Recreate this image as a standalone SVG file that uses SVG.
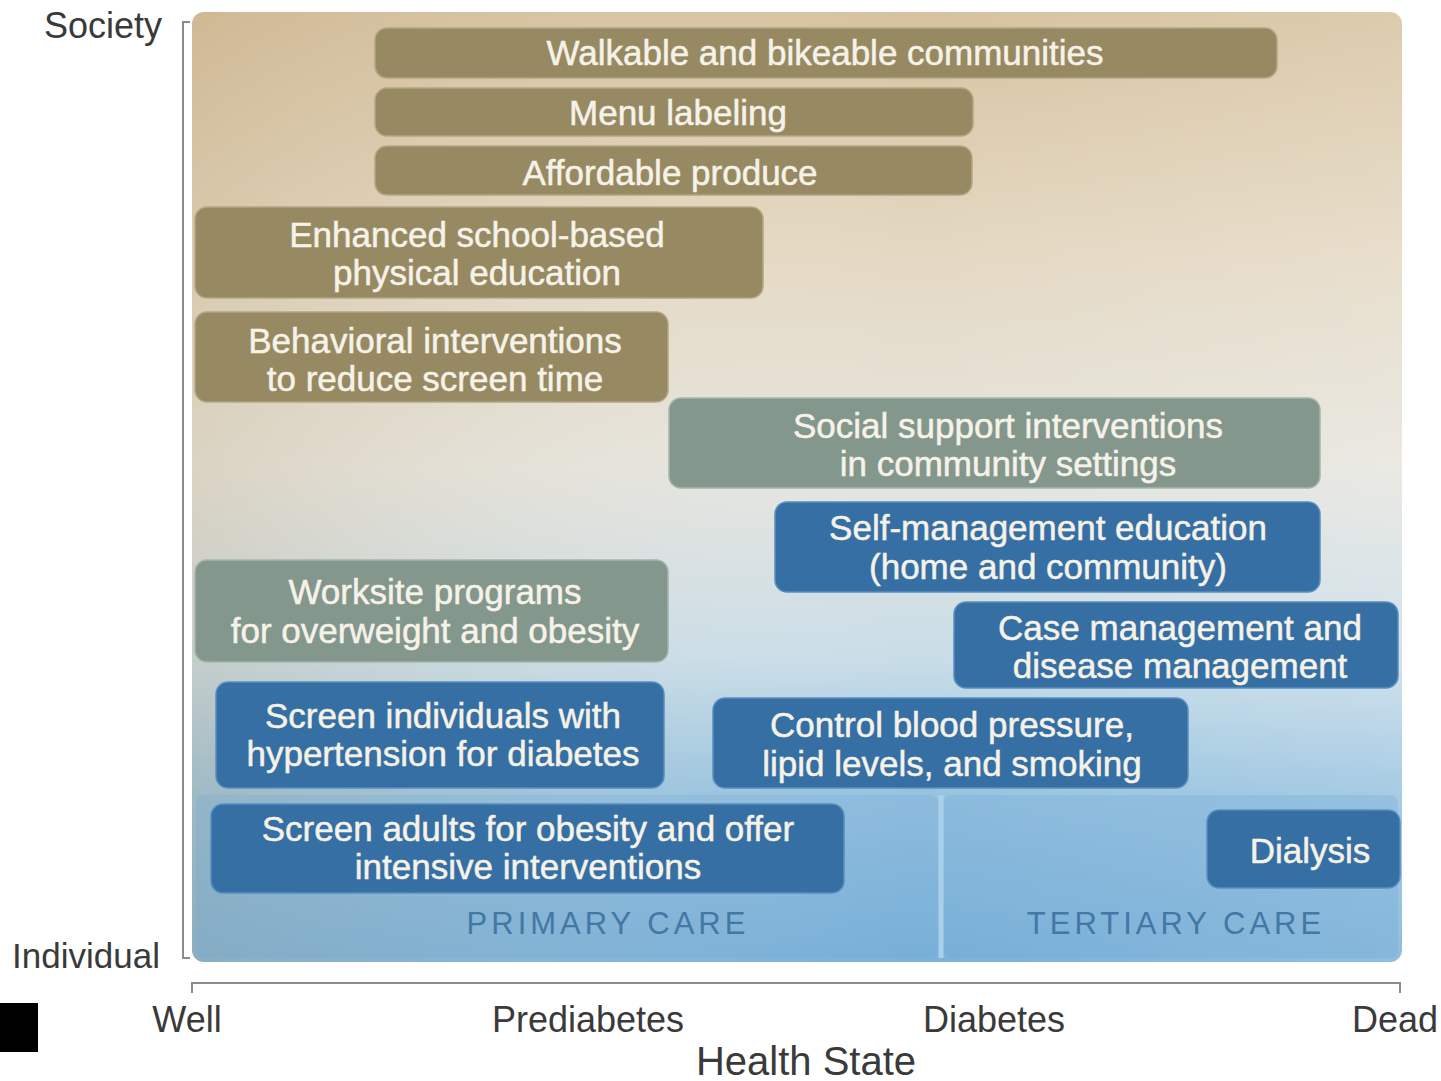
<svg xmlns="http://www.w3.org/2000/svg" width="1441" height="1081" viewBox="0 0 1441 1081">
<defs>
<linearGradient id="bgv" x1="0" y1="0" x2="0" y2="1">
<stop offset="0" stop-color="#d6c29f"/>
<stop offset="0.25" stop-color="#e4d8c2"/>
<stop offset="0.48" stop-color="#e6e5de"/>
<stop offset="0.68" stop-color="#c9dde8"/>
<stop offset="0.82" stop-color="#98c3e0"/>
<stop offset="1" stop-color="#7bb2d9"/>
</linearGradient>
<linearGradient id="bgh" x1="0" y1="0" x2="1" y2="0">
<stop offset="0" stop-color="#b89e72" stop-opacity="0.25"/>
<stop offset="0.6" stop-color="#ffffff" stop-opacity="0"/>
<stop offset="1" stop-color="#ffffff" stop-opacity="0.15"/>
</linearGradient>
<style>
.ax{stroke:#8c8c8c;stroke-width:2;fill:none}
.lab{font-family:"Liberation Sans",Arial,sans-serif;fill:#3a3a3a}
.olive{fill:#978a63;stroke:#b3a784;stroke-width:1.5}
.green{fill:#83978d;stroke:#a4b5ac;stroke-width:1.5}
.blue{fill:#356fa3;stroke:#5a8fbf;stroke-width:1.5}
.bt{font-family:"Liberation Sans",Arial,sans-serif;font-size:35px;fill:#f6f2e8;stroke:#f6f2e8;stroke-width:0.5;text-anchor:middle}
.care{font-family:"Liberation Sans",Arial,sans-serif;font-size:31px;fill:#4378a5;letter-spacing:4px;text-anchor:middle}
</style>
</defs>
<g id="background">
<rect x="192" y="12" width="1210" height="950" rx="12" fill="url(#bgv)"/>
<rect x="192" y="12" width="1210" height="950" rx="12" fill="url(#bgh)"/>
<rect x="196" y="795" width="742" height="163" rx="8" fill="#6fa9d4" opacity="0.25"/>
<rect x="944" y="795" width="454" height="163" rx="8" fill="#6fa9d4" opacity="0.3"/>
<line x1="941" y1="795" x2="941" y2="958" stroke="#a9d0ea" stroke-width="5"/>
<text class="care" x="608" y="934">PRIMARY CARE</text>
<text class="care" x="1176" y="934">TERTIARY CARE</text>
</g>
<g id="axes">
<path class="ax" d="M190 22 H183 V958 H190"/>
<path class="ax" d="M192 993 V983 H1400 V993"/>
<text class="lab" x="162" y="38" font-size="36" text-anchor="end">Society</text>
<text class="lab" x="160" y="968" font-size="35" text-anchor="end">Individual</text>
<text class="lab" x="187" y="1032" font-size="36" text-anchor="middle">Well</text>
<text class="lab" x="588" y="1032" font-size="36" text-anchor="middle">Prediabetes</text>
<text class="lab" x="994" y="1032" font-size="36" text-anchor="middle">Diabetes</text>
<text class="lab" x="1395" y="1032" font-size="36" text-anchor="middle">Dead</text>
<text class="lab" x="806" y="1075" font-size="40" text-anchor="middle">Health State</text>
<rect x="0" y="1003" width="38" height="49" fill="#000000"/>
</g>
<g id="connectors"></g>
<g id="n-walkable"><rect class="olive" x="375" y="28" width="902" height="50" rx="12"/><text class="bt" x="825" y="65">Walkable and bikeable communities</text></g>
<g id="n-menu"><rect class="olive" x="375" y="88" width="598" height="48" rx="12"/><text class="bt" x="678" y="125">Menu labeling</text></g>
<g id="n-produce"><rect class="olive" x="375" y="146" width="597" height="49" rx="12"/><text class="bt" x="670" y="185">Affordable produce</text></g>
<g id="n-school"><rect class="olive" x="195" y="207" width="568" height="91" rx="12"/><text class="bt" x="477" y="247">Enhanced school-based</text><text class="bt" x="477" y="285">physical education</text></g>
<g id="n-screen-time"><rect class="olive" x="195" y="312" width="473" height="90" rx="12"/><text class="bt" x="435" y="353">Behavioral interventions</text><text class="bt" x="435" y="391">to reduce screen time</text></g>
<g id="n-social"><rect class="green" x="669" y="398" width="651" height="90" rx="12"/><text class="bt" x="1008" y="438">Social support interventions</text><text class="bt" x="1008" y="476">in community settings</text></g>
<g id="n-selfmgmt"><rect class="blue" x="775" y="502" width="545" height="90" rx="12"/><text class="bt" x="1048" y="540">Self-management education</text><text class="bt" x="1048" y="579">(home and community)</text></g>
<g id="n-worksite"><rect class="green" x="195" y="560" width="473" height="102" rx="12"/><text class="bt" x="435" y="604">Worksite programs</text><text class="bt" x="435" y="643">for overweight and obesity</text></g>
<g id="n-case"><rect class="blue" x="954" y="602" width="444" height="86" rx="12"/><text class="bt" x="1180" y="640">Case management and</text><text class="bt" x="1180" y="678">disease management</text></g>
<g id="n-screen-hyp"><rect class="blue" x="216" y="682" width="448" height="106" rx="12"/><text class="bt" x="443" y="728">Screen individuals with</text><text class="bt" x="443" y="766">hypertension for diabetes</text></g>
<g id="n-control"><rect class="blue" x="713" y="698" width="475" height="90" rx="12"/><text class="bt" x="952" y="737">Control blood pressure,</text><text class="bt" x="952" y="776">lipid levels, and smoking</text></g>
<g id="n-screen-obesity"><rect class="blue" x="211" y="804" width="633" height="89" rx="12"/><text class="bt" x="528" y="841">Screen adults for obesity and offer</text><text class="bt" x="528" y="879">intensive interventions</text></g>
<g id="n-dialysis"><rect class="blue" x="1207" y="810" width="193" height="78" rx="12"/><text class="bt" x="1310" y="863">Dialysis</text></g>
</svg>
